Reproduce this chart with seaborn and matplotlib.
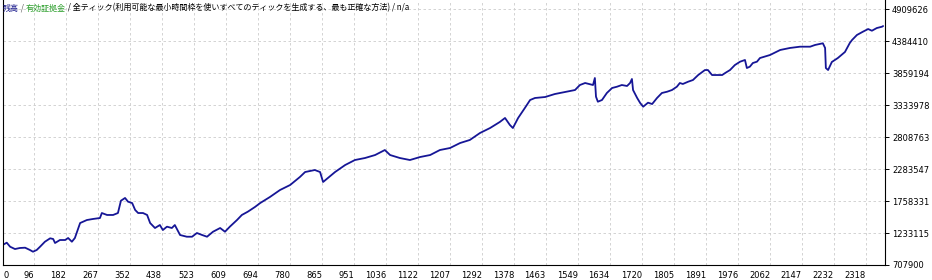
import matplotlib
matplotlib.use("Agg")
import matplotlib.pyplot as plt
import numpy as np
import pandas as pd
import seaborn as sns

# ---- data ----
trades = [0, 12, 23, 32, 45, 58, 72, 85, 93, 103, 112, 125, 139, 147, 152, 165, 179, 187, 197, 205,
          219, 237, 253, 272, 277, 291, 307, 320, 328, 339, 347, 358, 366, 374, 387, 398, 406, 419,
          432, 440, 451, 464, 472, 486, 504, 518, 531, 545, 558, 574, 593, 606, 619, 638, 651, 667,
          686, 700, 726, 753, 780, 806, 820, 846, 860, 868, 881, 900, 927, 953, 980, 1007, 1033,
          1047, 1073, 1100, 1127, 1154, 1180, 1207, 1234, 1260, 1287, 1314, 1340, 1354, 1367, 1375,
          1389, 1407, 1421, 1434, 1461, 1487, 1514, 1541, 1554, 1568, 1589, 1594, 1597, 1602, 1613,
          1626, 1640, 1653, 1666, 1680, 1688, 1693, 1696, 1707, 1715, 1723, 1736, 1747, 1760, 1773,
          1787, 1800, 1813, 1821, 1829, 1843, 1856, 1870, 1888, 1896, 1907, 1920, 1934, 1942, 1955,
          1968, 1982, 1995, 2000, 2008, 2016, 2027, 2035, 2062, 2089, 2115, 2142, 2169, 2182, 2203,
          2209, 2211, 2217, 2227, 2243, 2262, 2275, 2281, 2294, 2310, 2324, 2334, 2347, 2361, 2364]
balance = [1040000, 1036000, 1074000, 1008000, 970000, 987000, 992000, 954000, 926000, 954000,
           1008000, 1090000, 1146000, 1135000, 1069000, 1118000, 1118000, 1151000, 1090000, 1151000,
           1397000, 1446000, 1463000, 1479000, 1561000, 1529000, 1529000, 1561000, 1763000, 1808000,
           1747000, 1725000, 1611000, 1561000, 1561000, 1529000, 1397000, 1315000, 1364000, 1282000,
           1337000, 1315000, 1364000, 1200000, 1172000, 1172000, 1233000, 1200000, 1172000, 1254000,
           1315000, 1254000, 1337000, 1446000, 1529000, 1583000, 1660000, 1725000, 1824000, 1939000,
           2021000, 2152000, 2234000, 2267000, 2234000, 2070000, 2136000, 2234000, 2349000, 2431000,
           2464000, 2513000, 2595000, 2513000, 2464000, 2431000, 2480000, 2513000, 2595000, 2628000,
           2710000, 2760000, 2874000, 2956000, 3055000, 3121000, 3006000, 2956000, 3121000, 3285000,
           3416000, 3449000, 3465000, 3514000, 3547000, 3580000, 3662000, 3695000, 3662000, 3777000,
           3470000, 3388000, 3416000, 3531000, 3613000, 3634000, 3662000, 3646000, 3695000, 3761000,
           3580000, 3449000, 3367000, 3306000, 3372000, 3350000, 3449000, 3531000, 3552000, 3580000,
           3634000, 3695000, 3679000, 3716000, 3744000, 3826000, 3908000, 3908000, 3826000, 3826000,
           3826000, 3859000, 3908000, 3990000, 4045000, 4073000, 3941000, 3963000, 4023000, 4045000,
           4105000, 4155000, 4237000, 4270000, 4291000, 4291000, 4319000, 4347000, 4270000, 3941000,
           3908000, 4040000, 4105000, 4204000, 4352000, 4401000, 4483000, 4537000, 4581000, 4553000,
           4597000, 4619000, 4630000]
x_tick_values = [96, 182, 267, 352, 438, 523, 609, 694, 780, 865, 951, 1036, 1122, 1207, 1292,
                 1378, 1463, 1549, 1634, 1720, 1805, 1891, 1976, 2062, 2147, 2232, 2318]
y_tick_values = [707900, 1233115, 1758331, 2283547, 2808763, 3333978, 3859194, 4384410, 4909626]

title_parts = [("残高", "#1a1a8c"), (" / ", "#555555"), ("有効証拠金", "#2ea02e"),
               (" / 全ティック(利用可能な最小時間枠を使いすべてのティックを生成する、最も正確な方法) / n/a", "#000000")]

df = pd.DataFrame({"trade": trades, "balance": balance})

sns.set_style("white")
plt.rcParams["font.family"] = ["DejaVu Sans"]

W, H = 932, 280
fig = plt.figure(figsize=(W / 100, H / 100), dpi=100)
ax = fig.add_axes([3 / W, 15 / H, 882 / W, 265 / H])

sns.lineplot(data=df, x="trade", y="balance", ax=ax, color="#161696", linewidth=1.3,
             estimator=None, sort=False)

ax.set_xlim(13, 2369)
ax.set_ylim(707900, 5057345)

ax.set_xticks([ax.get_xlim()[0]] + x_tick_values)
ax.set_xticklabels(["0"] + [str(v) for v in x_tick_values], fontsize=6)
labels = ax.get_xticklabels()
for i, lab in enumerate(labels):
    lab.set_horizontalalignment("left" if i == 0 else "right")

ax.set_yticks(y_tick_values)
ax.set_yticklabels([str(v) for v in y_tick_values], fontsize=6)
ax.yaxis.tick_right()

ax.tick_params(axis="x", direction="out", length=3, width=0.7, pad=1, colors="black")
ax.tick_params(axis="y", direction="out", length=3, width=0.7, pad=2, colors="black")
ax.set_xlabel("")
ax.set_ylabel("")

ax.grid(True, color="#cccccc", linestyle=(0, (3, 3)), linewidth=0.6)
for side in ["left", "bottom", "right"]:
    ax.spines[side].set_visible(True)
    ax.spines[side].set_color("black")
    ax.spines[side].set_linewidth(0.8)
ax.spines["top"].set_visible(False)

# coloured title line at the top
fig.canvas.draw()
renderer = fig.canvas.get_renderer()
x_px = 3
for txt, col in title_parts:
    t = fig.text(x_px / W, 1 - 8 / H, txt, color=col, fontsize=5.8, va="center", ha="left",
                 family=["Noto Sans CJK JP", "DejaVu Sans"])
    bb = t.get_window_extent(renderer=renderer)
    x_px = bb.x1

fig.savefig("out.png", dpi=100)
